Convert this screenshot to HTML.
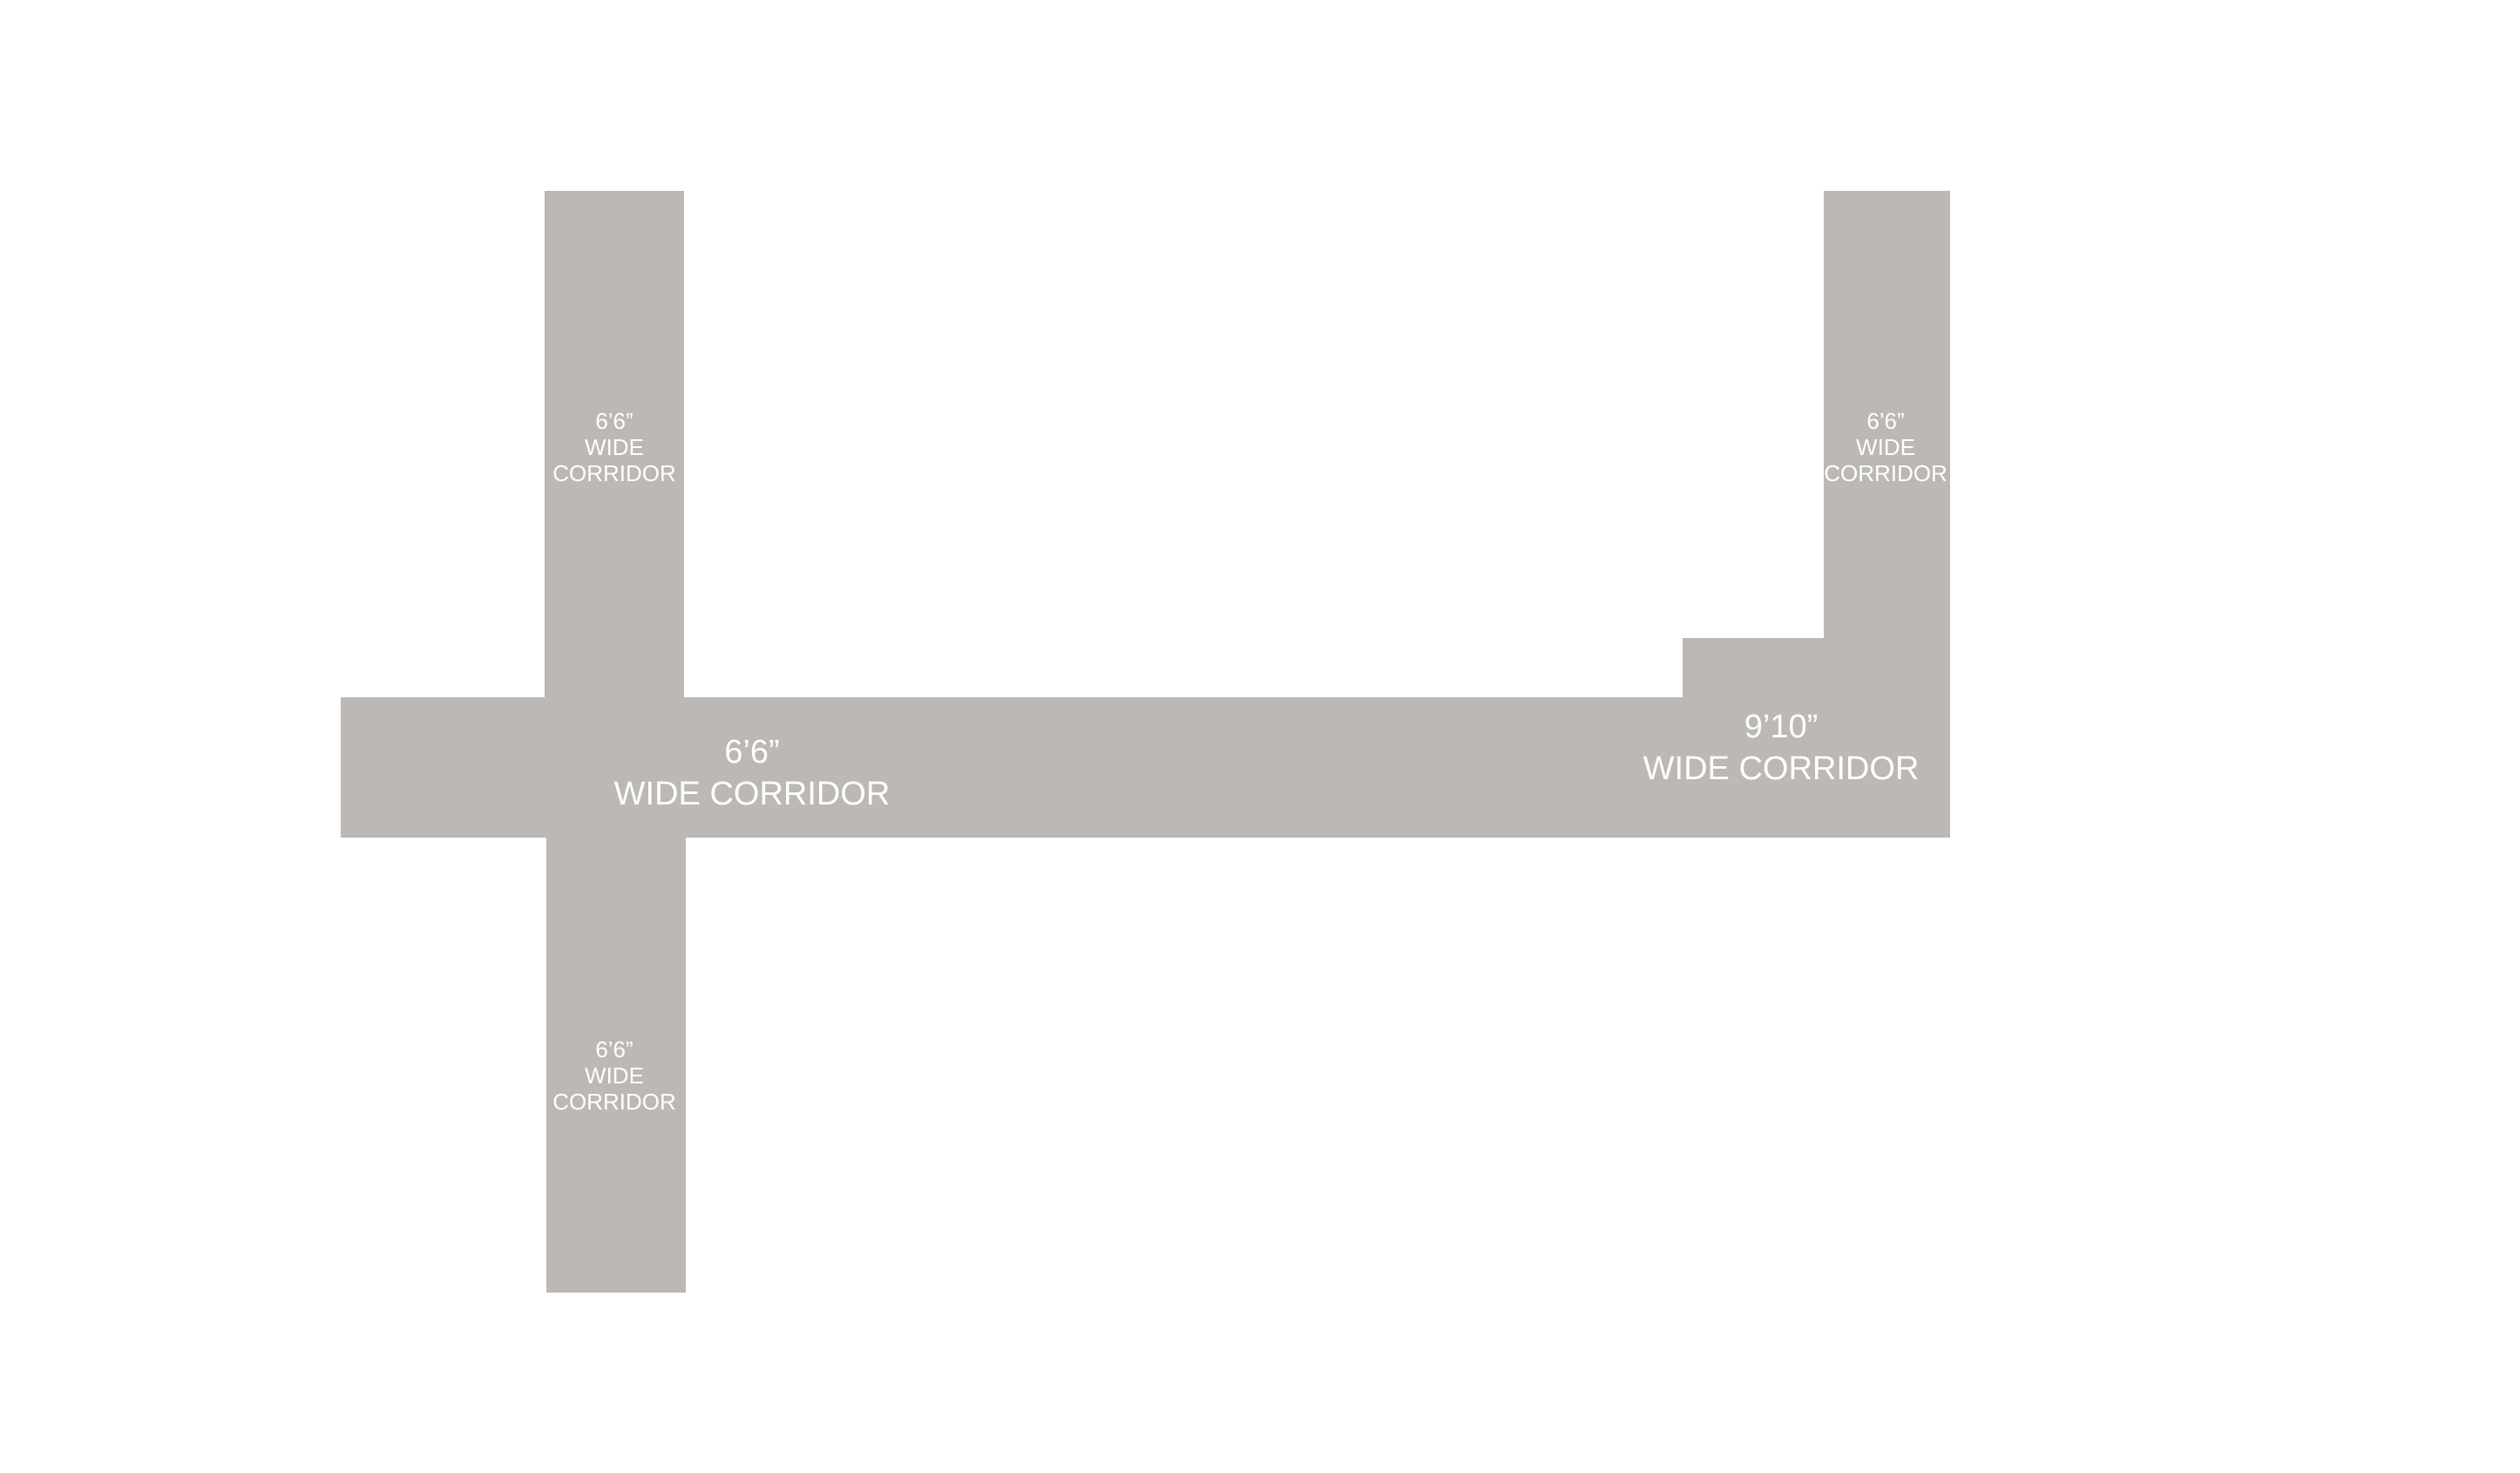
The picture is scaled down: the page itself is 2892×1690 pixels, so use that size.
<!DOCTYPE html>
<html><head><style>
html,body{margin:0;padding:0;background:#fff;}
body{width:2892px;height:1690px;position:relative;overflow:hidden;font-family:"Liberation Sans",sans-serif;}
.r{position:absolute;background:#bbb8b5;}
.t{position:absolute;color:#fff;text-align:center;white-space:nowrap;transform:translate(-50%,-50%);}
.s{font-size:26px;line-height:30px;}
.b{font-size:38px;line-height:48px;}
</style></head><body>
<div class="r" style="left:625px;top:219px;width:160px;height:590px"></div>
<div class="r" style="left:391px;top:800px;width:1847px;height:161px"></div>
<div class="r" style="left:627px;top:955px;width:160px;height:528px"></div>
<div class="r" style="left:2093px;top:219px;width:145px;height:600px"></div>
<div class="r" style="left:1931px;top:732px;width:307px;height:100px"></div>

<div class="t s" style="left:705px;top:513px">6’6”<br>WIDE<br>CORRIDOR</div>
<div class="t s" style="left:705px;top:1234px">6’6”<br>WIDE<br>CORRIDOR</div>
<div class="t s" style="left:2164px;top:513px">6’6”<br>WIDE<br>CORRIDOR</div>
<div class="t b" style="left:863px;top:887px">6’6”<br>WIDE CORRIDOR</div>
<div class="t b" style="left:2044px;top:858px">9’10”<br>WIDE CORRIDOR</div>
</body></html>
